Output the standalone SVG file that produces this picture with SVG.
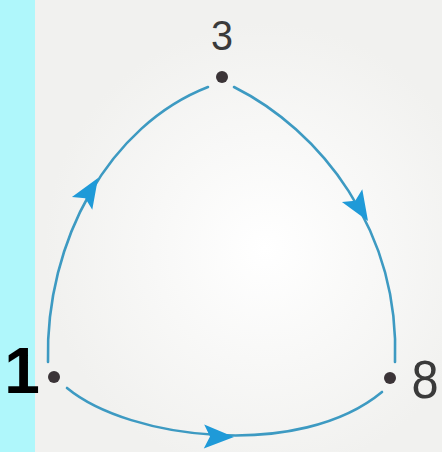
<svg xmlns="http://www.w3.org/2000/svg" width="442" height="452" viewBox="0 0 442 452">
<style>
.edge{fill:none;stroke:#3d9ac2;stroke-width:2.6;stroke-linecap:round}
.ah{fill:#1f9ad8}
.dot{fill:#3b3437}
.lbl{font-family:"Liberation Sans",Arial,sans-serif;fill:#3a3a3a;text-anchor:middle}
</style>
<defs>
<radialGradient id="bg" cx="0.6" cy="0.55" r="0.5">
<stop offset="0" stop-color="#ffffff"/>
<stop offset="1" stop-color="#f1f1ef"/>
</radialGradient>
<path id="arrow" d="M0,0 L-30,-12 L-24,0 L-30,12 Z"/>
</defs>
<rect x="0" y="0" width="442" height="452" fill="url(#bg)"/>
<rect x="0" y="0" width="35" height="452" fill="#aff7fb"/>
<g id="connectors">
<path class="edge" d="M48,362 C45,240 110,125 208,87"/>
<path class="edge" d="M234,87 C320,130 400,230 395,362"/>
<path class="edge" d="M67,388 C130,440 300,460 382,392"/>
<use href="#arrow" class="ah" transform="translate(98,178) rotate(-58)"/>
<use href="#arrow" class="ah" transform="translate(368,221) rotate(58)"/>
<use href="#arrow" class="ah" transform="translate(234,437) rotate(1)"/>
</g>
<g id="node-3">
<circle class="dot" cx="222" cy="77" r="6"/>
<text class="lbl" x="222" y="50" font-size="43" transform="translate(222 0) scale(0.92 1) translate(-222 0)">3</text>
</g>
<g id="node-1">
<circle class="dot" cx="54" cy="377" r="6"/>
<text x="22" y="393" font-size="64" font-weight="bold" font-family="Liberation Sans,Arial,sans-serif" fill="#000" text-anchor="middle">1</text>
</g>
<g id="node-8">
<circle class="dot" cx="390" cy="378" r="6"/>
<text class="lbl" x="425" y="398" font-size="53" transform="translate(425 0) scale(0.92 1) translate(-425 0)">8</text>
</g>
</svg>
